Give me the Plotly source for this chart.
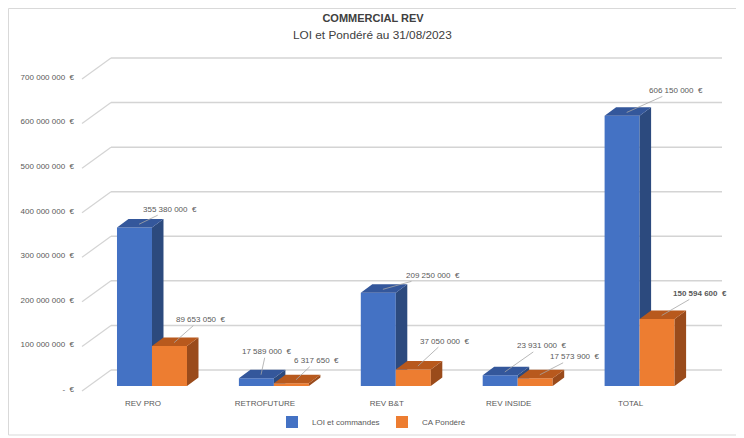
import plotly.graph_objects as go

# ---------------- data ----------------
categories = ["REV PRO", "RETROFUTURE", "REV B&T", "REV INSIDE", "TOTAL"]
series_names = ["LOI et commandes", "CA Pondéré"]
loi_commandes = [355380000, 17589000, 209250000, 23931000, 606150000]
ca_pondere = [89653050, 6317650, 37050000, 17573900, 150594600]
y_tick_values = [0, 100000000, 200000000, 300000000, 400000000, 500000000, 600000000, 700000000]
y_tick_labels = ["-\u00a0\u00a0€", "100 000 000\u00a0\u00a0€", "200 000 000\u00a0\u00a0€",
                 "300 000 000\u00a0\u00a0€", "400 000 000\u00a0\u00a0€", "500 000 000\u00a0\u00a0€",
                 "600 000 000\u00a0\u00a0€", "700 000 000\u00a0\u00a0€"]
title_text = "COMMERCIAL REV"
subtitle_text = "LOI et Pondéré au 31/08/2023"

# ---------------- style / geometry ----------------
# the page body adds an 8px margin, so the figure is drawn 8px smaller and shifted
OFF = 8
W, H = 744 - OFF, 438 - OFF
L, R, T, B = 72, 14, 42, 43
plot_w, plot_h = W - L - R, H - T - B
x_range = [-0.5906, 4.7416]
y_range = [-20.19e6, 753.87e6]
px_x = (x_range[1] - x_range[0]) / plot_w      # x units per pixel
px_y = (y_range[1] - y_range[0]) / plot_h      # y units per pixel

bar_w = 35 * px_x
dx = 11.5 * px_x
dy = 8.5 * px_y

front = {"LOI et commandes": "#4472C4", "CA Pondéré": "#ED7D31"}
side = {"LOI et commandes": "#2c4a7e", "CA Pondéré": "#9a4b1b"}
top = {"LOI et commandes": "#34579b", "CA Pondéré": "#b8591d"}
grid_color = "#d4d4d4"
text_color = "#595959"
font_family = "Liberation Sans, Arial, sans-serif"

xs = list(range(len(categories)))
series = [loi_commandes, ca_pondere]
offsets = [-bar_w, 0.0]

fig = go.Figure()

# front faces (real bars)
for name, vals, off in zip(series_names, series, offsets):
    fig.add_trace(go.Bar(
        x=xs, y=vals, width=bar_w, offset=off, name=name,
        marker=dict(color=front[name], line=dict(width=0)),
        hovertemplate="%{y:,.0f} €<extra>" + name + "</extra>",
    ))

# side and top faces, computed from the data through the axes
for k, (name, vals, off) in enumerate(zip(series_names, series, offsets)):
    sx, sy, tx, ty = [], [], [], []
    for i, v in enumerate(vals):
        x0 = i + off
        x1 = x0 + bar_w
        if k == 0:
            low = min(series[1][i], v)
            low_back = low
        else:
            low = 0.0
            low_back = dy
        sx += [x1, x1, x1 + dx, x1 + dx, x1, None]
        sy += [low, v, v + dy, low_back, low, None]
        tx += [x0, x1, x1 + dx, x0 + dx, x0, None]
        ty += [v, v, v + dy, v + dy, v, None]
    fig.add_trace(go.Scatter(x=sx, y=sy, fill="toself", fillcolor=side[name], mode="lines",
                             line=dict(width=0, color=side[name]), showlegend=False, hoverinfo="skip"))
    fig.add_trace(go.Scatter(x=tx, y=ty, fill="toself", fillcolor=top[name], mode="lines",
                             line=dict(width=0, color=top[name]), showlegend=False, hoverinfo="skip"))

# 3D-style gridlines (floor diagonal + back wall)
u_start, u_back, u_end = x_range[0] + 2 * px_x, x_range[0] + 31 * px_x, x_range[0] + 642 * px_x
shapes = []
for v in y_tick_values:
    y_front = v - 5 * px_y
    y_back = v + 16 * px_y
    shapes.append(dict(type="line", xref="x", yref="y", x0=u_start, y0=y_front, x1=u_back, y1=y_back,
                       line=dict(color=grid_color, width=1.2), layer="below"))
    shapes.append(dict(type="line", xref="x", yref="y", x0=u_back, y0=y_back, x1=u_end, y1=y_back,
                       line=dict(color=grid_color, width=1.5), layer="below"))
# chart border
shapes.append(dict(type="rect", xref="paper", yref="paper",
                   x0=(0.5 - L) / plot_w, x1=(733 - L) / plot_w,
                   y0=(H - B - 427) / plot_h, y1=(H - B - 0.5) / plot_h,
                   line=dict(color="#d9d9d9", width=1), layer="below"))

# data labels with leader lines
def fmt(v):
    return f"{int(round(v)):,}".replace(",", "\u00a0") + "\u00a0\u00a0€"

label_offsets = [
    [(31, -15), (26, -23)],
    [(5, -23), (20, -19)],
    [(50, -14), (27, -25)],
    [(37, -26), (35, -18)],
    [(49, -22), (38, -22)],
]
annotations = []
for k, (vals, off) in enumerate(zip(series, offsets)):
    for i, v in enumerate(vals):
        ax, ay = label_offsets[i][k]
        txt = fmt(v)
        if i == len(vals) - 1 and k == 1:
            txt = "<b>" + txt + "</b>"
        annotations.append(dict(
            x=i + off + bar_w / 2 + dx * 0.4, y=v + dy * 0.4, xref="x", yref="y",
            text=txt, showarrow=True, arrowhead=0, arrowwidth=0.8, arrowcolor="#a6a6a6",
            ax=ax, ay=ay, standoff=0, font=dict(size=8, color=text_color, family=font_family),
        ))

# subtitle
annotations.append(dict(
    text=subtitle_text, xref="paper", yref="paper",
    x=(372 - OFF - L) / plot_w, y=(H - B - (35 - OFF)) / plot_h, xanchor="center", yanchor="middle",
    showarrow=False, font=dict(size=11.8, color="#404040", family=font_family),
))

fig.update_layout(
    width=W, height=H,
    margin=dict(l=L, r=R, t=T, b=B, autoexpand=False),
    paper_bgcolor="white", plot_bgcolor="rgba(0,0,0,0)",
    title=dict(
        text="<b>" + title_text + "</b>",
        x=(373 - OFF) / W, xanchor="center", xref="container",
        y=1 - (18 - OFF) / H, yref="container", yanchor="middle",
        font=dict(size=11, color="#404040", family=font_family), automargin=False,
    ),
    barmode="overlay",
    showlegend=True,
    legend=dict(orientation="h", x=(272 - OFF) / W, xref="container", xanchor="left",
                y=1 - (422 - OFF) / H, yref="container",
                yanchor="middle", font=dict(size=8, color=text_color, family=font_family),
                entrywidth=65, entrywidthmode="pixels", itemsizing="constant", traceorder="normal",
                bgcolor="rgba(0,0,0,0)"),
    xaxis=dict(range=x_range, tickvals=xs, ticktext=categories, showgrid=False, zeroline=False,
               showline=False, ticks="", ticklabelshift=-9, ticklabelstandoff=2, automargin=False,
               tickfont=dict(size=8, color=text_color, family=font_family), fixedrange=True),
    yaxis=dict(range=y_range, tickvals=y_tick_values, ticktext=y_tick_labels, showgrid=False,
               zeroline=False, showline=False, ticks="", ticklabelshift=3, ticklabelstandoff=5,
               automargin=False,
               tickfont=dict(size=8, color=text_color, family=font_family), fixedrange=True),
    shapes=shapes,
    annotations=annotations,
)

fig.write_html("out.html")
